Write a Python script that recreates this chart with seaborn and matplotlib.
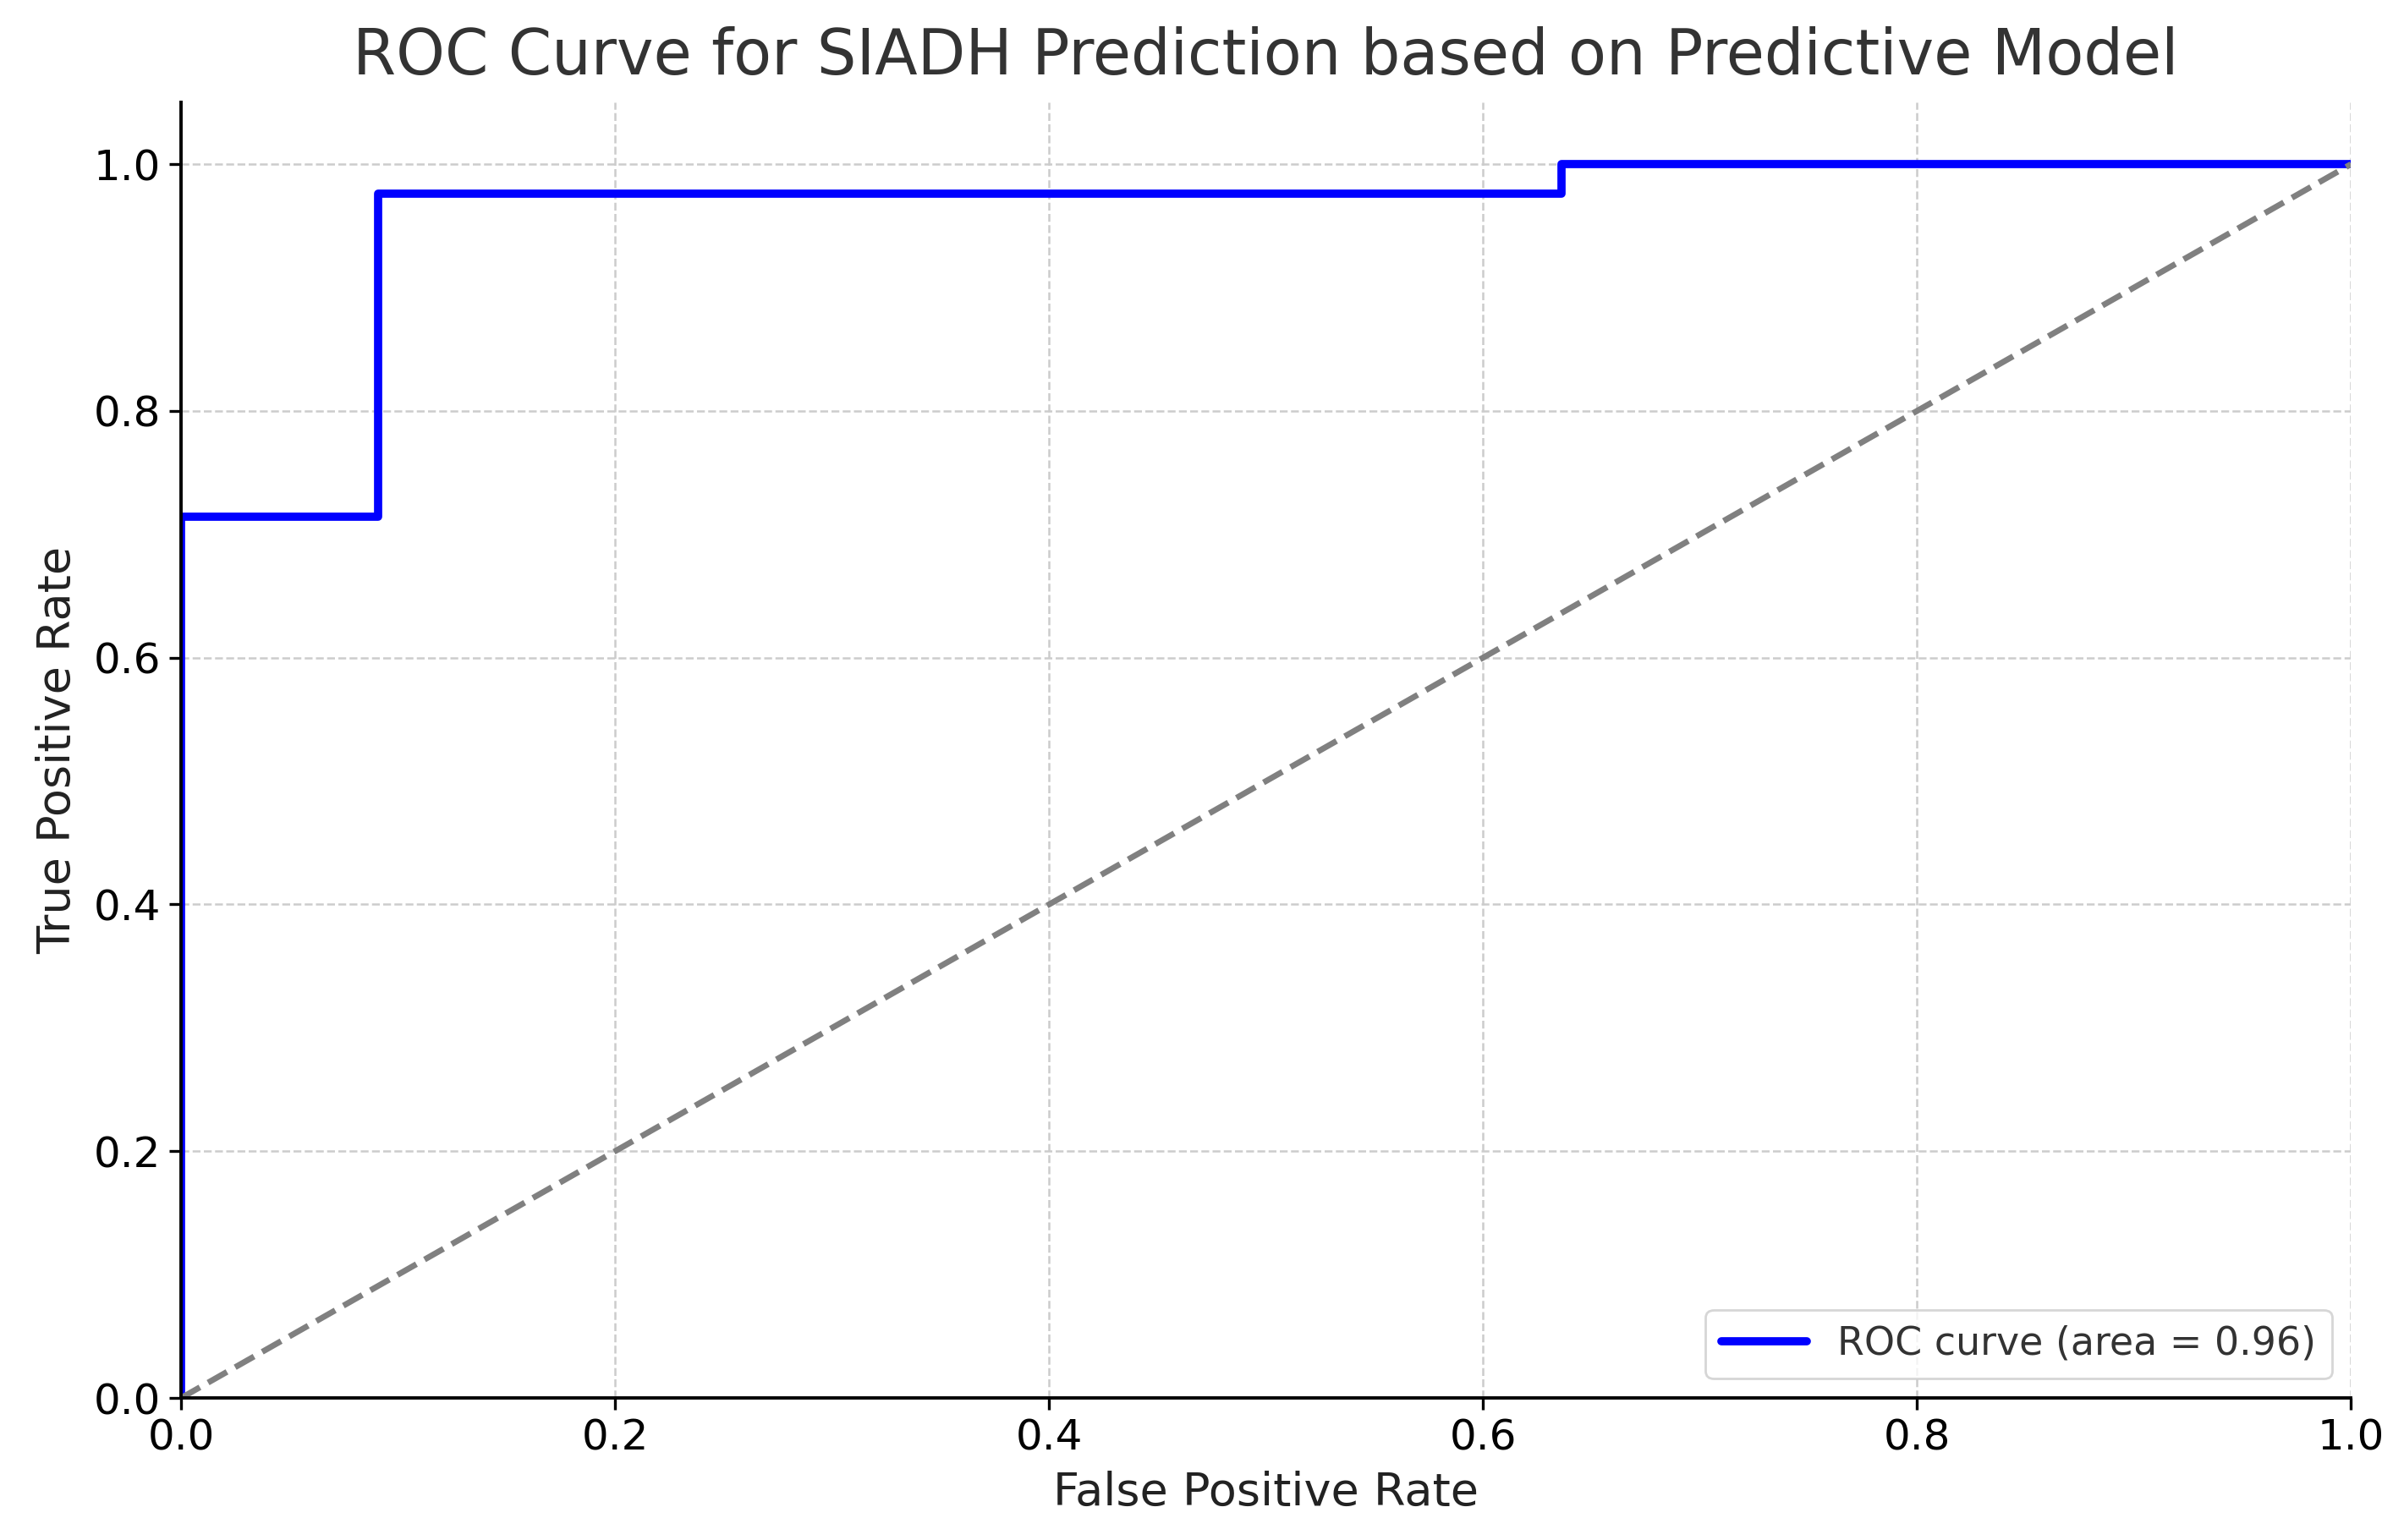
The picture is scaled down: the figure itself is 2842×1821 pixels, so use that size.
import numpy as np
import pandas as pd
import seaborn as sns
import matplotlib
matplotlib.use("Agg")
import matplotlib.pyplot as plt

# ROC data
fpr = [0.0, 0.0, 0.091, 0.091, 0.636, 0.636, 1.0]
tpr = [0.0, 0.714, 0.714, 0.976, 0.976, 1.0, 1.0]
roc_auc = 0.96
chance = [0.0, 1.0]

df = pd.DataFrame({"fpr": fpr, "tpr": tpr})

sns.set_style("ticks")
plt.rcParams.update({
    "font.family": ["DejaVu Sans"],
    "axes.edgecolor": "black",
    "axes.linewidth": 1.4,
    "xtick.color": "black", "ytick.color": "black",
    "text.color": "#333333", "axes.labelcolor": "#222222",
})

fig = plt.figure(figsize=(14.21, 9.105), dpi=200)
ax = fig.add_axes([0.0753, 0.0922, 0.9027, 0.8413])

sns.lineplot(data=df, x="fpr", y="tpr", sort=False, estimator=None,
             color="blue", linewidth=3.5, ax=ax,
             label=f"ROC curve (area = {roc_auc:.2f})")
sns.lineplot(x=chance, y=chance, color="gray", linewidth=2.5,
             linestyle="--", ax=ax, legend=False)

ax.set_xlim(0.0, 1.0)
ax.set_ylim(0.0, 1.05)
ax.set_xticks(np.arange(0, 1.01, 0.2))
ax.set_yticks(np.arange(0, 1.01, 0.2))
ax.grid(True, linestyle="--", color="#cccccc", linewidth=0.9)
ax.tick_params(labelsize=18, length=5, width=1.2, colors="black")

ax.set_xlabel("False Positive Rate", fontsize=19.5, labelpad=5)
ax.set_ylabel("True Positive Rate", fontsize=19.5, labelpad=6)
ax.set_title("ROC Curve for SIADH Prediction based on Predictive Model",
             fontsize=26.5, pad=12)

leg = ax.legend(loc="lower right", fontsize=16.5, frameon=True, fancybox=True,
                handlelength=2.2)
leg.get_frame().set_edgecolor("#cccccc")

sns.despine(ax=ax)
fig.savefig("out.png", dpi=200)
